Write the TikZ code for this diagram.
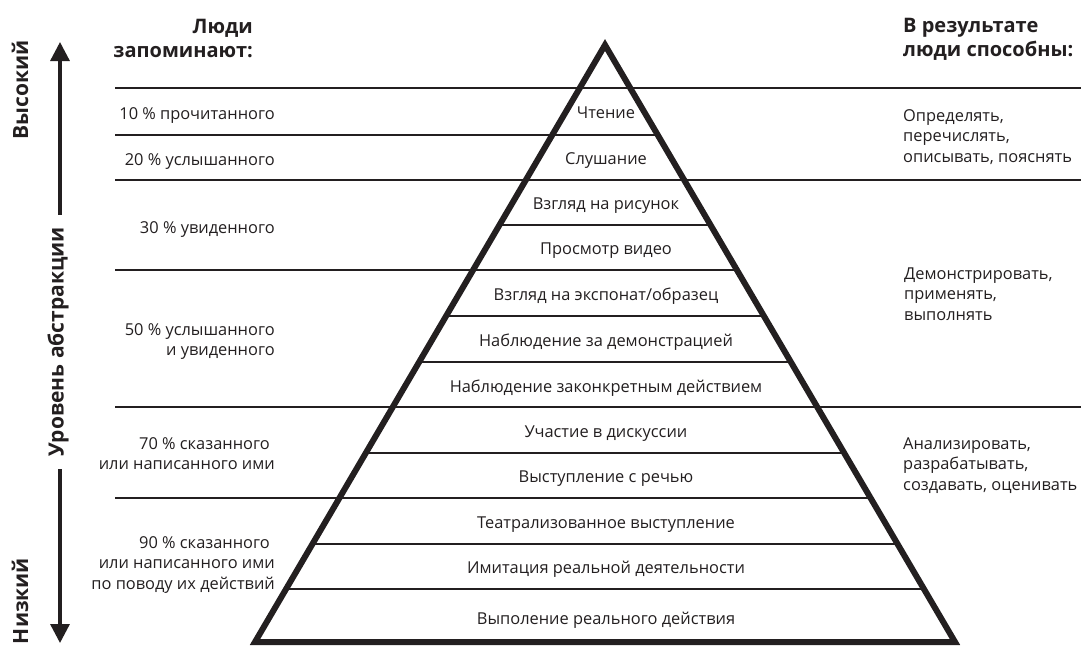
\documentclass[tikz,border=0pt]{standalone}
\usepackage{fontspec}
\setmainfont{Open Sans}
\usetikzlibrary{arrows.meta}
\definecolor{ink}{HTML}{231F20}
\begin{document}
\begin{tikzpicture}[x=1pt,y=-1pt,
  every node/.style={text=ink, inner sep=0pt},
  body/.style={font=\fontsize{16.4}{20.5}\selectfont},
  head/.style={font=\bfseries\fontsize{20}{24.5}\selectfont},
  side/.style={font=\bfseries\fontsize{21}{24}\selectfont, rotate=90},
  rule/.style={draw=ink, line width=1.8pt},
  pyr/.style={draw=ink, line width=6pt, line join=miter},
  arr/.style={draw=ink, line width=3.3pt, -{Triangle[length=19pt,width=19pt]}}
]
\useasboundingbox (0,0) rectangle (1081,646);
% pyramid corners
\coordinate (apex) at (605,45);
\coordinate (bl) at (255,642);
\coordinate (br) at (955,642);
% full-width rules
\foreach \y in {88,180,407}{
  \draw[rule] (115,\y) -- (1081,\y);
}
% rules from the left column to the right edge of the pyramid
\foreach \y in {135,270,498}{
  \draw[rule] (115,\y) -- ({605+0.5863*(\y-45)},\y);
}
% rules inside the pyramid only
\foreach \y in {225,316,362,453,544,589}{
  \draw[rule] ({605-0.5863*(\y-45)},\y) -- ({605+0.5863*(\y-45)},\y);
}
\draw[pyr] (bl) -- (apex) -- (br) -- cycle;
% pyramid labels
\node[body, anchor=base] (p1) at (606,118) {Чтение};
\node[body, anchor=base] (p2) at (606,164) {Слушание};
\node[body, anchor=base] (p3) at (606,209) {Взгляд на рисунок};
\node[body, anchor=base] (p4) at (606,254) {Просмотр видео};
\node[body, anchor=base] (p5) at (606,300) {Взгляд на экспонат/образец};
\node[body, anchor=base] (p6) at (606,346) {Наблюдение за демонстрацией};
\node[body, anchor=base] (p7) at (606,392) {Наблюдение законкретным действием};
\node[body, anchor=base] (p8) at (606,437) {Участие в дискуссии};
\node[body, anchor=base] (p9) at (606,482) {Выступление с речью};
\node[body, anchor=base] (p10) at (606,528) {Театрализованное выступление};
\node[body, anchor=base] (p11) at (606,573) {Имитация реальной деятельности};
\node[body, anchor=base] (p12) at (606,624) {Выполение реального действия};
% left column
\node[head, anchor=base east] (hl) at (253,33) {\begin{tabular}[t]{@{}r@{}}Люди\\запоминают:\end{tabular}};
\node[body, anchor=base east] (l1) at (275,119) {10 \% прочитанного};
\node[body, anchor=base east] (l2) at (275,165) {20 \% услышанного};
\node[body, anchor=base east] (l3) at (275,233) {30 \% увиденного};
\node[body, anchor=base east] (l4) at (275,335) {\begin{tabular}[t]{@{}r@{}}50 \% услышанного\\и увиденного\end{tabular}};
\node[body, anchor=base east] (l5) at (275,449) {\begin{tabular}[t]{@{}r@{}}70 \% сказанного\hspace*{0.3em}\\или написанного ими\end{tabular}};
\node[body, anchor=base east] (l6) at (275,548) {\begin{tabular}[t]{@{}r@{}}90 \% сказанного\hspace*{0.3em}\\или написанного ими\\по поводу их действий\end{tabular}};
% right column
\node[head, anchor=base west] (hr) at (903,32) {\begin{tabular}[t]{@{}l@{}}В результате\\люди способны:\end{tabular}};
\node[body, anchor=base west] (r1) at (903,121) {\begin{tabular}[t]{@{}l@{}}Определять,\\перечислять,\\описывать, пояснять\end{tabular}};
\node[body, anchor=base west] (r2) at (904,279) {\begin{tabular}[t]{@{}l@{}}Демонстрировать,\\применять,\\выполнять\end{tabular}};
\node[body, anchor=base west] (r3) at (903,449) {\begin{tabular}[t]{@{}l@{}}Анализировать,\\разрабатывать,\\создавать, оценивать\end{tabular}};
% abstraction axis
\node[side] (hi) at (20,90) {Высокий};
\node[side] (lo) at (20,601) {Низкий};
\node[side, inner xsep=12pt] (lvl) at (58,342) {Уровень абстракции};
\coordinate (arrtop) at (60,42);
\coordinate (arrbot) at (60,643);
\draw[arr] (lvl.east -| arrtop) -- (arrtop);
\draw[arr] (lvl.west -| arrbot) -- (arrbot);
\end{tikzpicture}
\end{document}
